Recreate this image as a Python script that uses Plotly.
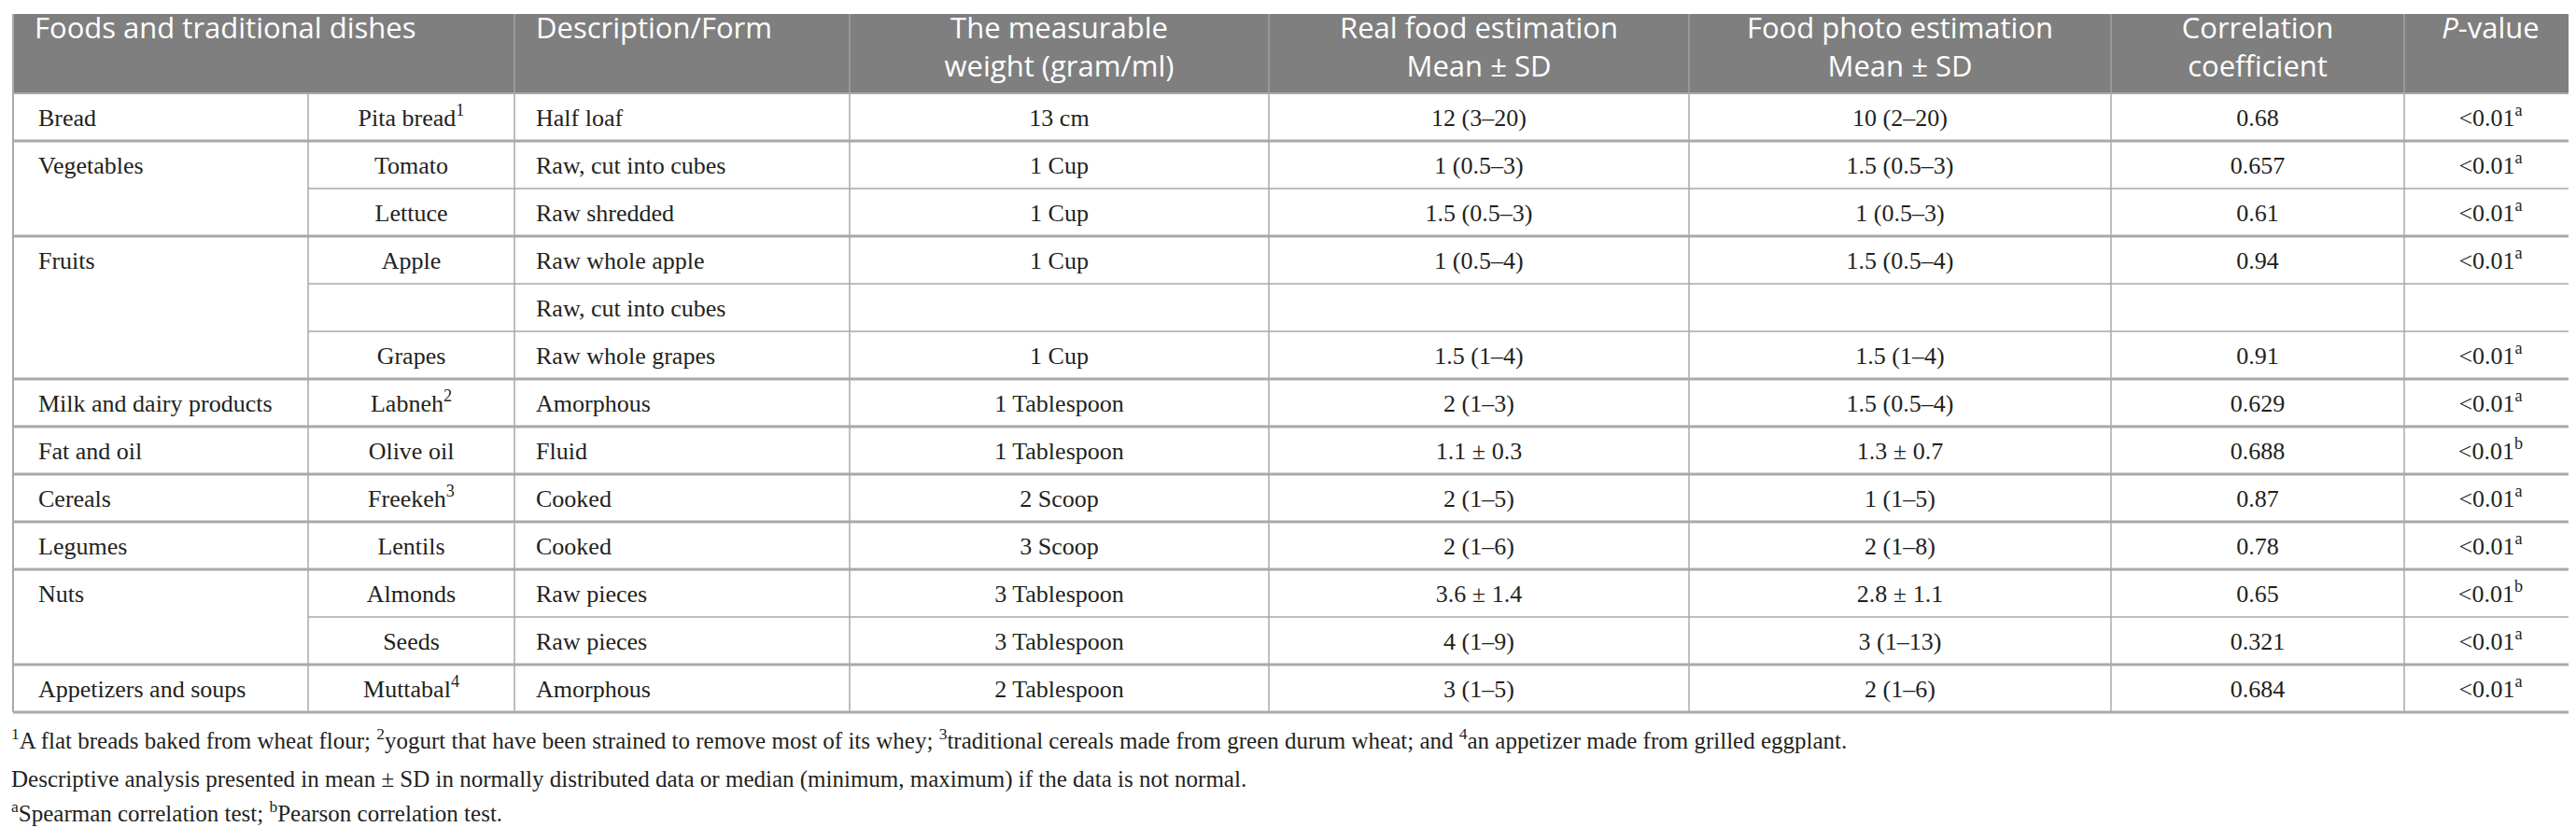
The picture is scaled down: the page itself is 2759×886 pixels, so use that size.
import plotly.graph_objects as go

# table content
groups = ["Bread", "Vegetables", "Fruits", "Milk and dairy products", "Fat and oil",
          "Cereals", "Legumes", "Nuts", "Appetizers and soups"]
group_size = [1, 2, 3, 1, 1, 1, 1, 2, 1]

foods = ["Pita bread<sup>1</sup>", "Tomato", "Lettuce", "Apple", "", "Grapes",
         "Labneh<sup>2</sup>", "Olive oil", "Freekeh<sup>3</sup>", "Lentils",
         "Almonds", "Seeds", "Muttabal<sup>4</sup>"]
description = ["Half loaf", "Raw, cut into cubes", "Raw shredded", "Raw whole apple",
               "Raw, cut into cubes", "Raw whole grapes", "Amorphous", "Fluid", "Cooked",
               "Cooked", "Raw pieces", "Raw pieces", "Amorphous"]
weight = ["13 cm", "1 Cup", "1 Cup", "1 Cup", "", "1 Cup", "1 Tablespoon", "1 Tablespoon",
          "2 Scoop", "3 Scoop", "3 Tablespoon", "3 Tablespoon", "2 Tablespoon"]
real_est = ["12 (3–20)", "1 (0.5–3)", "1.5 (0.5–3)", "1 (0.5–4)", "", "1.5 (1–4)",
            "2 (1–3)", "1.1 ± 0.3", "2 (1–5)", "2 (1–6)", "3.6 ± 1.4", "4 (1–9)", "3 (1–5)"]
photo_est = ["10 (2–20)", "1.5 (0.5–3)", "1 (0.5–3)", "1.5 (0.5–4)", "", "1.5 (1–4)",
             "1.5 (0.5–4)", "1.3 ± 0.7", "1 (1–5)", "2 (1–8)", "2.8 ± 1.1", "3 (1–13)", "2 (1–6)"]
corr = ["0.68", "0.657", "0.61", "0.94", "", "0.91", "0.629", "0.688", "0.87", "0.78",
        "0.65", "0.321", "0.684"]
test = ["a", "a", "a", "a", "", "a", "a", "b", "a", "a", "b", "a", "a"]

headers = ["Foods and traditional dishes", "Description/Form",
           "The measurable<br>weight (gram/ml)", "Real food estimation<br>Mean ± SD",
           "Food photo estimation<br>Mean ± SD", "Correlation<br>coefficient", "<i>P</i>-value"]

notes = ["<sup>1</sup>A flat breads baked from wheat flour; <sup>2</sup>yogurt that have been strained to remove most of its whey; "
         "<sup>3</sup>traditional cereals made from green durum wheat; and <sup>4</sup>an appetizer made from grilled eggplant.",
         "Descriptive analysis presented in mean ± SD in normally distributed data or median (minimum, maximum) if the data is not normal.",
         "<sup>a</sup>Spearman correlation test; <sup>b</sup>Pearson correlation test."]

# layout geometry (pixels)
W, H = 2759, 886
cols = [6, 322, 543, 902, 1351, 1801, 2253, 2567, 2752]
top, head_b, row_h = 7, 92, 51
pad = 27
n = len(foods)
row_mid = [head_b + row_h * (i + 0.5) + 3 for i in range(n)]
bottom = head_b + row_h * n

body_font = dict(family="Liberation Serif", size=26, color="#231f20")
head_font = dict(family="Open Sans", size=31, color="white")
grid = "#a9a9a9"

group_rows = []
r = 0
for s in group_size:
    group_rows.append(r)
    r += s

pvals = ["" if t == "" else "&lt;0.01<sup>%s</sup>" % t for t in test]

fig = go.Figure()

# left aligned body columns
fig.add_trace(go.Scatter(x=[cols[0] + pad] * len(groups), y=[row_mid[i] for i in group_rows],
                         text=groups, mode="text", textposition="middle right", textfont=body_font))
fig.add_trace(go.Scatter(x=[cols[2] + pad - 4] * n, y=row_mid, text=description,
                         mode="text", textposition="middle right", textfont=body_font))

# centered body columns
for k, col in [(1, foods), (3, weight), (4, real_est), (5, photo_est), (6, corr), (7, pvals)]:
    cx = (cols[k] + cols[k + 1]) / 2
    fig.add_trace(go.Scatter(x=[cx] * n, y=row_mid, text=col, mode="text",
                             textposition="middle center", textfont=body_font))

# header
hx = [cols[0] + pad - 4, cols[2] + pad - 4] + [(cols[k] + cols[k + 1]) / 2 for k in range(3, 8)]
hpos = ["bottom right", "bottom right"] + ["bottom center"] * 5
fig.add_trace(go.Scatter(x=hx, y=[10] * len(headers), text=headers, mode="text",
                         textposition=hpos, textfont=head_font, cliponaxis=False))

# footnotes
fig.add_trace(go.Scatter(x=[4] * 3, y=[788, 829, 866], text=notes, mode="text",
                         textposition="middle right", cliponaxis=False,
                         textfont=dict(family="Liberation Serif", size=25, color="#231f20")))

shapes = [dict(type="rect", x0=cols[0], x1=cols[-1], y0=top, y1=head_b,
               fillcolor="#7f7f7f", line=dict(width=0), layer="below")]
# header separators
for x in cols[2:-1]:
    shapes.append(dict(type="line", x0=x, x1=x, y0=top, y1=head_b, line=dict(color="#a0a0a0", width=1.5)))
# body verticals
for x in cols[1:-1]:
    shapes.append(dict(type="line", x0=x, x1=x, y0=head_b, y1=bottom, line=dict(color=grid, width=1.5)))
for x in [cols[0], cols[-1]]:
    shapes.append(dict(type="line", x0=x, x1=x, y0=top, y1=bottom, line=dict(color=grid, width=2)))
# horizontal lines
for i in range(1, n):
    y = head_b + row_h * i
    if i in group_rows:
        shapes.append(dict(type="line", x0=cols[0], x1=cols[-1], y0=y, y1=y, line=dict(color=grid, width=3)))
    else:
        shapes.append(dict(type="line", x0=cols[1], x1=cols[-1], y0=y, y1=y, line=dict(color=grid, width=1.5)))
shapes.append(dict(type="line", x0=cols[0], x1=cols[-1], y0=bottom, y1=bottom, line=dict(color=grid, width=3)))
shapes.append(dict(type="line", x0=cols[0], x1=cols[-1], y0=head_b, y1=head_b, line=dict(color=grid, width=2)))

fig.update_layout(width=W, height=H, margin=dict(l=0, r=0, t=0, b=0),
                  paper_bgcolor="white", plot_bgcolor="white", showlegend=False,
                  shapes=shapes,
                  xaxis=dict(range=[0, W], visible=False, fixedrange=True),
                  yaxis=dict(range=[H, 0], visible=False, fixedrange=True))

fig.write_html("out.html")
